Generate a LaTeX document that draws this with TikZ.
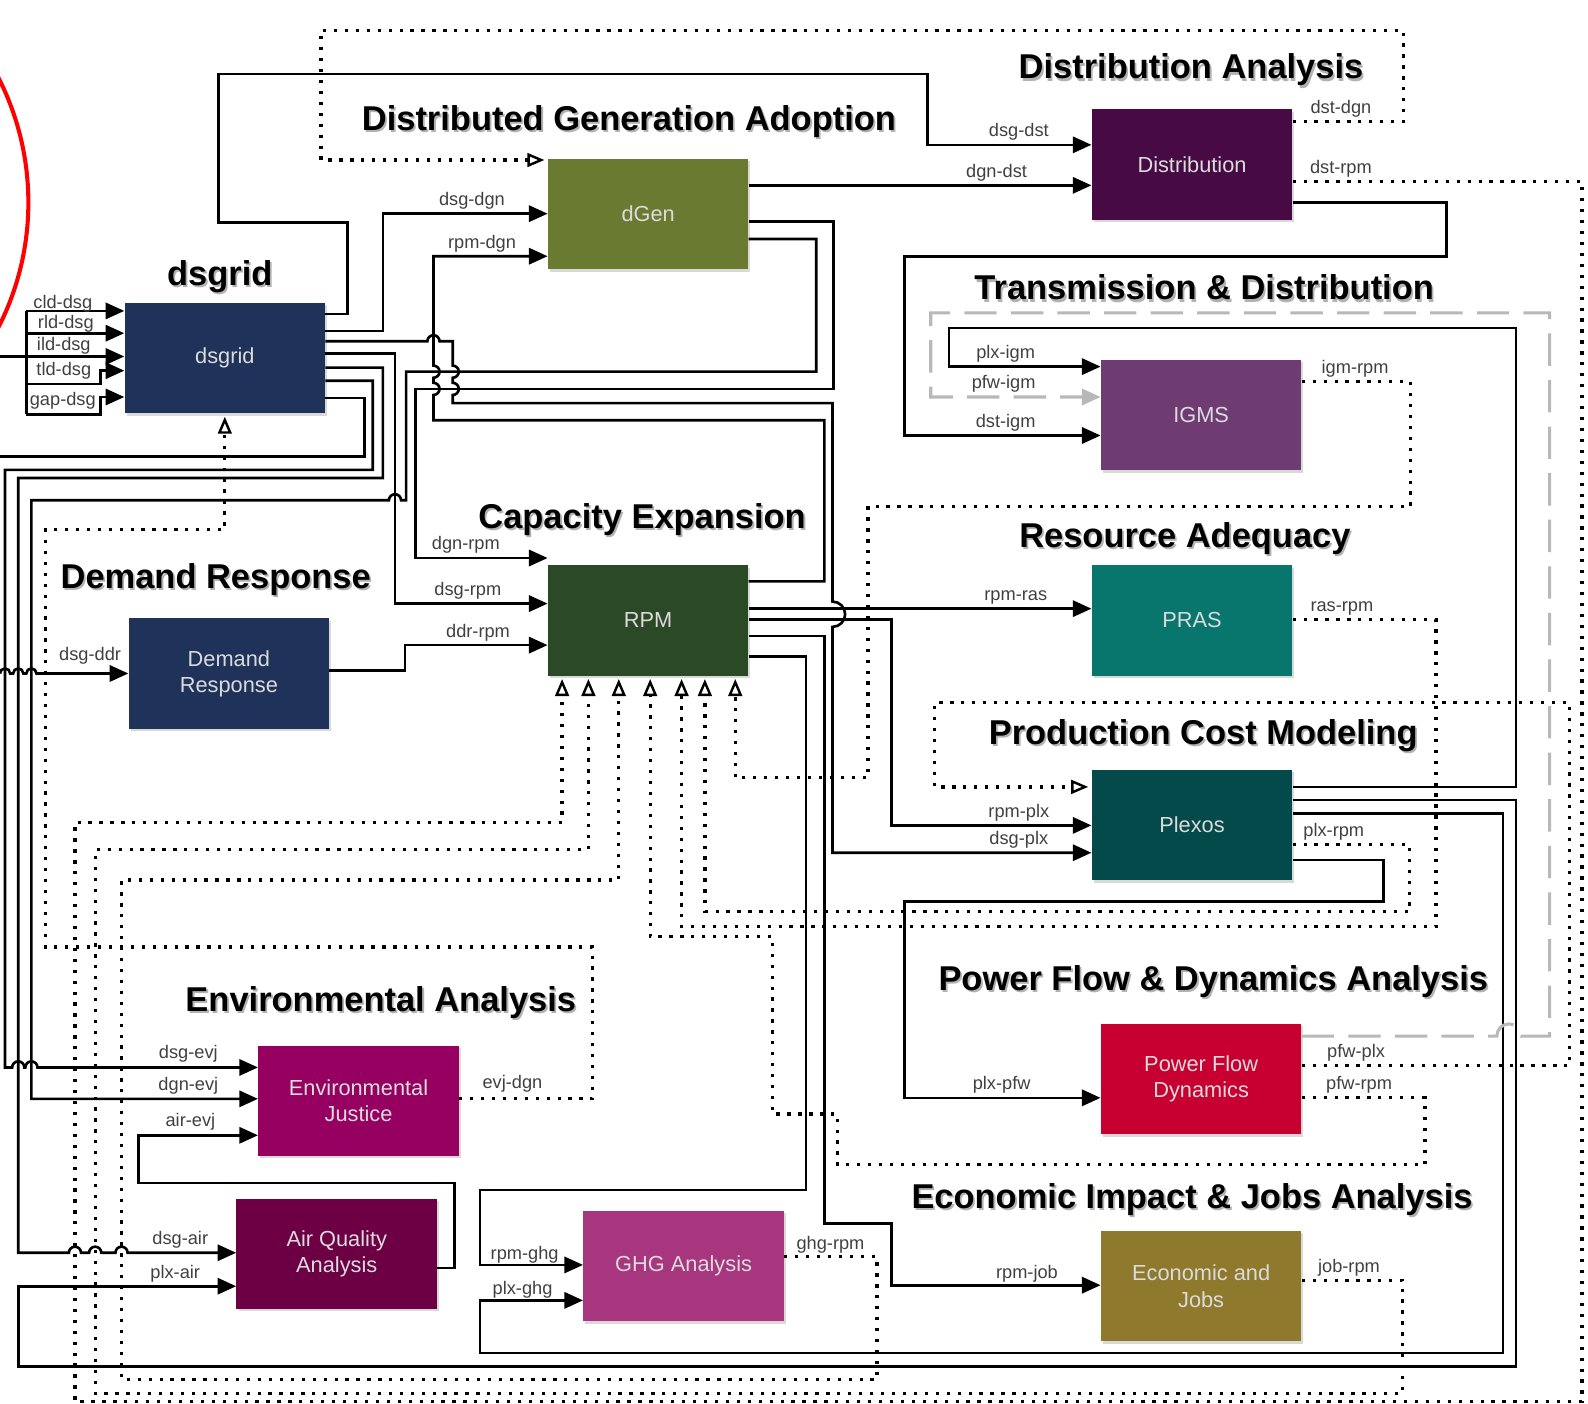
\documentclass[tikz,border=0pt]{standalone}
\usepackage{fontspec}
\setmainfont{Liberation Sans}
\usetikzlibrary{arrows.meta,shadows}

% model colours
\definecolor{dsgBlue}{HTML}{1F325A}
\definecolor{dgenGreen}{HTML}{6A7A30}
\definecolor{distPurple}{HTML}{470A45}
\definecolor{igmsPurple}{HTML}{6E3B73}
\definecolor{prasTeal}{HTML}{08766D}
\definecolor{rpmGreen}{HTML}{2B4926}
\definecolor{plxTeal}{HTML}{054A4A}
\definecolor{pfwRed}{HTML}{C80032}
\definecolor{evjMagenta}{HTML}{960060}
\definecolor{airMaroon}{HTML}{6D0045}
\definecolor{ghgPink}{HTML}{A8367F}
\definecolor{jobGold}{HTML}{8E792D}

% section heading with a soft shadow behind it
\newcommand{\areatitle}[3]{%
    \node[areashade] (#1-shade) at ([shift={(0.45mm,-0.55mm)}]#2) {#3};
    \node[area] (#1) at (#2) {#3};%
}

\begin{document}
\begin{tikzpicture}[
    x=0.25mm,
    y=-0.25mm,
    modelbox/.style={
        minimum width=49.5mm,
        minimum height=27.25mm,
        inner sep=0pt,
        align=center,
        text=white!86!black,
        font=\fontsize{15.3}{18.4}\selectfont,
        drop shadow={shadow xshift=0.5mm, shadow yshift=-0.6mm, opacity=0.3}
    },
    area/.style={
        font=\fontsize{24.2}{28}\selectfont\bfseries
    },
    areashade/.style={
        area,
        text=black!30
    },
    tag/.style={
        font=\fontsize{12.8}{15}\selectfont,
        text=black!75,
        inner sep=0pt,
        anchor=base
    },
    wire/.style={
        draw=black,
        line width=0.65mm,
        -{Triangle[length=4.6mm,width=4mm]}
    },
    plainwire/.style={
        draw=black,
        line width=0.65mm
    },
    feedback/.style={
        draw=black,
        line width=0.8mm,
        dash pattern=on 0.8mm off 1.9mm,
        shorten >=0.8mm,
        -{Triangle[open,length=4.2mm,width=3.4mm,line width=0.6mm]}
    },
    ghost/.style={
        draw=black!28,
        line width=0.75mm,
        dash pattern=on 8mm off 3.5mm,
        -{Triangle[length=4.6mm,width=4mm,fill=black!28]}
    }
]
\useasboundingbox (0,0) rectangle (1568,1386);
\clip (0,0) rectangle (1568,1386);

% ==================================================
% Section headings
% ==================================================

\areatitle{a-dist}{1176,69}{Distribution Analysis}
\areatitle{a-dgen}{621,120}{Distributed Generation Adoption}
\areatitle{a-dsg}{217,273}{dsgrid}
\areatitle{a-td}{1189,284}{Transmission \& Distribution}
\areatitle{a-cap}{634,513}{Capacity Expansion}
\areatitle{a-res}{1170,532}{Resource Adequacy}
\areatitle{a-ddr}{213,572}{Demand Response}
\areatitle{a-pcm}{1188,726}{Production Cost Modeling}
\areatitle{a-pfw}{1198,969}{Power Flow \& Dynamics Analysis}
\areatitle{a-env}{376,990}{Environmental Analysis}
\areatitle{a-job}{1177,1184}{Economic Impact \& Jobs Analysis}

% ==================================================
% Models
% ==================================================

\node[modelbox, fill=dsgBlue] (dsgrid) at (222,353.5) {dsgrid};
\node[modelbox, fill=dgenGreen] (dgen) at (640,211.5) {dGen};
\node[modelbox, fill=distPurple] (dist) at (1177,162.5) {Distribution};
\node[modelbox, fill=igmsPurple] (igms) at (1186,410) {IGMS};
\node[modelbox, fill=prasTeal] (pras) at (1177,612.5) {PRAS};
\node[modelbox, fill=rpmGreen] (rpm) at (640,612.5) {RPM};
\node[modelbox, fill=dsgBlue] (ddr) at (226,665) {Demand\\Response};
\node[modelbox, fill=plxTeal] (plexos) at (1177,814.5) {Plexos};
\node[modelbox, fill=pfwRed] (pfd) at (1186,1065.5) {Power Flow\\Dynamics};
\node[modelbox, fill=evjMagenta] (evj) at (354,1087) {Environmental\\Justice};
\node[modelbox, fill=airMaroon] (air) at (332.5,1238) {Air Quality\\Analysis};
\node[modelbox, fill=ghgPink] (ghg) at (675,1250) {GHG Analysis};
\node[modelbox, fill=jobGold] (job) at (1186,1270) {Economic and\\Jobs};

% free ends on the left border
\coordinate (feed) at (0,352);
\coordinate (west-out) at (0,451);
\coordinate (ddr-in) at (0,665);

% ==================================================
% Load data into dsgrid
% ==================================================

\draw[plainwire] (26,307) -- (26,409);
\draw[wire] (feed) -- (dsgrid.west |- feed);
\draw[wire] (26,307) -- (dsgrid.west |- 0,307);
\draw[wire] (26,329) -- (dsgrid.west |- 0,329);
\draw[wire] (26,379) -- (99,379) -- (99,366) -- (dsgrid.west |- 0,366);
\draw[wire] (26,409) -- (99,409) -- (99,392) -- (dsgrid.west |- 0,392);

% ==================================================
% dsgrid outputs
% ==================================================

\draw[wire] (dsgrid.east |- 0,310) -| (343,220) -| (216,73) -| (916,143)
    -- (dist.west |- 0,143);
\draw[wire] (dsgrid.east |- 0,327) -| (378,211) -- (dgen.west |- 0,211);
\draw[wire] (dsgrid.east |- 0,337) -- (422,337)
    arc[start angle=180, end angle=0, radius=1.5mm] -- (447,337) -- (447,361)
    arc[start angle=90, end angle=-90, radius=1.5mm] -- (447,378)
    arc[start angle=90, end angle=-90, radius=1.5mm] -- (447,398) -- (822,398)
    -- (822,594)
    arc[start angle=90, end angle=-90, radius=3.125mm] -- (822,842)
    -- (plexos.west |- 0,842);
\draw[wire] (dsgrid.east |- 0,349) -| (390,596) -- (rpm.west |- 0,596);
\draw[wire] (dsgrid.east |- 0,363) -| (378,472) -| (18,1237) -- (68,1237)
    arc[start angle=180, end angle=0, radius=1.5mm] -- (88,1237)
    arc[start angle=180, end angle=0, radius=1.5mm] -- (114,1237)
    arc[start angle=180, end angle=0, radius=1.5mm] -- (air.west |- 0,1237);
\draw[wire] (dsgrid.east |- 0,376) -| (368,464) -| (5,1054) -- (12,1054)
    arc[start angle=180, end angle=0, radius=1.5mm] -- (25,1054)
    arc[start angle=180, end angle=0, radius=1.5mm] -- (evj.west |- 0,1054);
\draw[plainwire] (dsgrid.east |- 0,393) -| (360,451) -- (west-out);

% dsgrid to Demand Response
\draw[wire] (ddr-in)
    arc[start angle=180, end angle=0, radius=1.25mm] -- (13,665)
    arc[start angle=180, end angle=0, radius=1.25mm] -- (26,665)
    arc[start angle=180, end angle=0, radius=1.25mm] -- (ddr.west |- ddr-in);

% ==================================================
% dGen outputs
% ==================================================

\draw[wire] (dgen.east |- 0,183) -- (dist.west |- 0,183);
\draw[wire] (dgen.east |- 0,219) -| (823,384) -| (410,551) -- (rpm.west |- 0,551);
\draw[wire] (dgen.east |- 0,236) -| (806,367) -| (401,494) -- (396,494)
    arc[start angle=0, end angle=180, radius=1.5mm] -- (31,494) -- (31,1085)
    -- (evj.west |- 0,1085);

% ==================================================
% RPM outputs
% ==================================================

\draw[wire] (rpm.east |- 0,574) -| (814,415) -- (428,415) -- (428,390)
    arc[start angle=-90, end angle=90, radius=1.5mm] -- (428,373)
    arc[start angle=-90, end angle=90, radius=1.5mm] -- (428,253)
    -- (dgen.west |- 0,253);
\draw[wire] (rpm.east |- 0,601) -- (pras.west |- 0,601);
\draw[wire] (rpm.east |- 0,612) -| (880,815) -- (plexos.west |- 0,815);
\draw[wire] (rpm.east |- 0,628) -| (814,1208) -| (880,1269) -- (job.west |- 0,1269);
\draw[wire] (rpm.east |- 0,648) -| (796,1175) -| (474,1249) -- (ghg.west |- 0,1249);
\draw[wire] (ddr.east |- 0,662) -| (400,637) -- (rpm.west |- 0,637);

% ==================================================
% Distribution, Plexos and Air Quality outputs
% ==================================================

\draw[wire] (dist.east |- 0,200) -| (1428,253) -| (893,430) -- (igms.west |- 0,430);
\draw[wire] (plexos.east |- 0,777) -| (1497,324) -| (937,362) -- (igms.west |- 0,362);
\draw[wire] (plexos.east |- 0,790) -| (1497,1349) -| (18,1270) -- (air.west |- 0,1270);
\draw[wire] (plexos.east |- 0,803) -| (1484,1336) -| (474,1284) -- (ghg.west |- 0,1284);
\draw[wire] (plexos.east |- 0,849) -| (1366,890) -| (893,1084) -- (pfd.west |- 0,1084);
\draw[wire] (air.east |- 0,1252) -| (449,1168) -| (137,1121) -- (evj.west |- 0,1121);

% Power Flow back into IGMS
\draw[ghost] (pfd.east |- 0,1023) -- (1478,1023)
    arc[start angle=180, end angle=0, radius=3mm] -- (1530,1023) -- (1530,309)
    -- (919,309) -- (919,392) -- (igms.west |- 0,392);

% ==================================================
% Feedback links
% ==================================================

\draw[feedback] (dist.east |- 0,120) -| (1386,30) -| (317,158) -- (dgen.west |- 0,158);
\draw[feedback] (dist.east |- 0,179) -| (1562,1384) -| (74,812) -| (rpm.south -| 555,0);
\draw[feedback] (job.east |- 0,1264) -| (1385,1376) -| (94,839) -| (rpm.south -| 581,0);
\draw[feedback] (ghg.east |- 0,1241) -| (866,1362) -| (120,869) -| (rpm.south -| 611,0);
\draw[feedback] (pfd.east |- 0,1084) -| (1407,1150) -| (827,1100) -| (763,925)
    -| (rpm.south -| 642,0);
\draw[feedback] (pras.east |- 0,612) -| (1418,915) -| (rpm.south -| 673,0);
\draw[feedback] (plexos.east |- 0,834) -| (1392,900) -| (rpm.south -| 696,0);
\draw[feedback] (igms.east |- 0,377) -| (1393,500) -| (857,768) -| (rpm.south -| 726,0);
\draw[feedback] (pfd.east |- 0,1052) -| (1550,694) -| (923,777) -- (plexos.west |- 0,777);
\draw[feedback] (evj.east |- 0,1085) -| (585,935) -| (45,523) -| (dsgrid.south);

% ==================================================
% Link names
% ==================================================

\node[tag] (t-cld) at (62,305) {cld-dsg};
\node[tag] (t-rld) at (65,324) {rld-dsg};
\node[tag] (t-ild) at (63,346) {ild-dsg};
\node[tag] (t-tld) at (63,371) {tld-dsg};
\node[tag] (t-gap) at (62,400) {gap-dsg};

\node[tag] (t-dsgdst) at (1006,135) {dsg-dst};
\node[tag] (t-dgndst) at (984,175) {dgn-dst};
\node[tag] (t-dstdgn) at (1324,112) {dst-dgn};
\node[tag] (t-dstrpm) at (1324,171) {dst-rpm};
\node[tag] (t-dsgdgn) at (466,203) {dsg-dgn};
\node[tag] (t-rpmdgn) at (476,245) {rpm-dgn};

\node[tag] (t-plxigm) at (993,354) {plx-igm};
\node[tag] (t-pfwigm) at (991,384) {pfw-igm};
\node[tag] (t-dstigm) at (993,422) {dst-igm};
\node[tag] (t-igmrpm) at (1338,369) {igm-rpm};

\node[tag] (t-dgnrpm) at (460,543) {dgn-rpm};
\node[tag] (t-dsgrpm) at (462,588) {dsg-rpm};
\node[tag] (t-ddrrpm) at (472,629) {ddr-rpm};
\node[tag] (t-rpmras) at (1003,593) {rpm-ras};
\node[tag] (t-rasrpm) at (1325,604) {ras-rpm};
\node[tag] (t-dsgddr) at (89,652) {dsg-ddr};

\node[tag] (t-rpmplx) at (1006,807) {rpm-plx};
\node[tag] (t-dsgplx) at (1006,834) {dsg-plx};
\node[tag] (t-plxrpm) at (1317,826) {plx-rpm};

\node[tag] (t-pfwplx) at (1339,1044) {pfw-plx};
\node[tag] (t-pfwrpm) at (1342,1076) {pfw-rpm};
\node[tag] (t-plxpfw) at (989,1076) {plx-pfw};

\node[tag] (t-dsgevj) at (186,1045) {dsg-evj};
\node[tag] (t-dgnevj) at (186,1077) {dgn-evj};
\node[tag] (t-airevj) at (188,1112) {air-evj};
\node[tag] (t-evjdgn) at (506,1075) {evj-dgn};
\node[tag] (t-dsgair) at (178,1229) {dsg-air};
\node[tag] (t-plxair) at (173,1262) {plx-air};

\node[tag] (t-rpmghg) at (518,1244) {rpm-ghg};
\node[tag] (t-plxghg) at (516,1278) {plx-ghg};
\node[tag] (t-ghgrpm) at (820,1234) {ghg-rpm};
\node[tag] (t-rpmjob) at (1014,1262) {rpm-job};
\node[tag] (t-jobrpm) at (1332,1256) {job-rpm};

% marking on the left border
\draw[red, line width=1mm] (-243,200) circle[radius=67.75mm];

\end{tikzpicture}
\end{document}
